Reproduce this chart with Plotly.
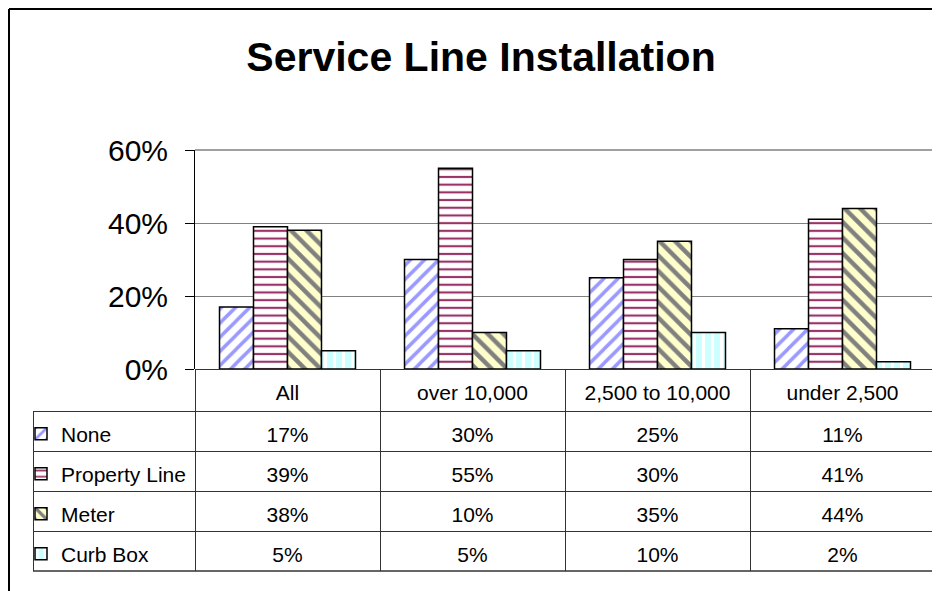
import plotly.graph_objects as go

# chart data
categories = ["All", "over 10,000", "2,500 to 10,000", "under 2,500"]
series_names = ["None", "Property Line", "Meter", "Curb Box"]
none_vals = [0.17, 0.30, 0.25, 0.11]
property_line_vals = [0.39, 0.55, 0.30, 0.41]
meter_vals = [0.38, 0.10, 0.35, 0.44]
curb_box_vals = [0.05, 0.05, 0.10, 0.02]

FONT = "Liberation Sans, Arial, sans-serif"

# fill patterns that mimic the Excel hatching
patterns = [
    dict(shape="/", fgcolor="#9999FF", bgcolor="white", size=10, solidity=0.35, fgopacity=1),
    dict(shape="-", fgcolor="#993366", bgcolor="white", size=7.7, solidity=0.28, fgopacity=1),
    dict(shape="\\", fgcolor="#808080", bgcolor="#FFFFCC", size=11, solidity=0.4, fgopacity=1),
    dict(shape="|", fgcolor="white", bgcolor="#CCFFFF", size=9, solidity=0.35, fgopacity=1),
]
all_vals = [none_vals, property_line_vals, meter_vals, curb_box_vals]

# figure geometry (px); page body adds an 8px offset
W, H = 932, 583
m_l, m_r, m_t, m_b = 25, 5, 142, 13
pw, ph = W - m_l - m_r, H - m_t - m_b
header_h, row_h = 42, 40
text_drop = 7                      # push table text down to centre it in rows
table_h = header_h + 4 * row_h
grid_bot = text_drop / ph
grid_top = (table_h + text_drop) / ph

fig = go.Figure()

legend_names = ["legend", "legend2", "legend3", "legend4"]
for i, (name, vals, pat) in enumerate(zip(series_names, all_vals, patterns)):
    fig.add_trace(go.Bar(
        name=name, x=categories, y=vals,
        marker=dict(color=pat["bgcolor"], pattern=pat,
                    line=dict(color="black", width=1.5)),
        legend=legend_names[i],
        hoverinfo="skip",
    ))

line_col = "#333333"
clear = "rgba(0,0,0,0)"
cell_text = [[""] * 4] + [[f"{round(v * 100)}%" for v in col] for col in zip(*all_vals)]

# data table grid (lines and fills only)
fig.add_trace(go.Table(
    domain=dict(x=[0, 1], y=[grid_bot, grid_top]),
    columnwidth=[162, 185, 185, 185, 185],
    header=dict(
        values=[""] * 5, height=header_h,
        fill_color=[clear] + ["white"] * 4,
        line=dict(color=[clear] + [line_col] * 4, width=1),
    ),
    cells=dict(
        values=[[""] * 4] * 5, height=row_h,
        fill_color="white",
        line=dict(color=line_col, width=1),
    ),
))

# data table text
fig.add_trace(go.Table(
    domain=dict(x=[0, 1], y=[0, table_h / ph]),
    columnwidth=[162, 185, 185, 185, 185],
    header=dict(
        values=[""] + categories, height=header_h,
        fill_color=clear, line=dict(color=clear, width=0),
        font=dict(family=FONT, size=21, color="black"),
        align="center",
    ),
    cells=dict(
        values=cell_text, height=row_h,
        fill_color=clear, line=dict(color=clear, width=0),
        font=dict(family=FONT, size=21, color="black"),
        align="center",
    ),
))

# one legend per table row so the keys sit in the first column
legend_cfg = {}
for i, lname in enumerate(legend_names):
    center_px = text_drop + (4 - i - 0.5) * row_h - 3
    legend_cfg[lname] = dict(
        x=(13 - m_l) / pw, xanchor="left",
        y=center_px / ph, yanchor="middle",
        font=dict(family=FONT, size=21, color="black"),
        bgcolor=clear, borderwidth=0,
        itemclick=False,
    )

x0 = (187 - m_l) / pw
fig.update_layout(
    width=W, height=H,
    margin=dict(l=m_l, r=m_r, t=m_t, b=m_b, autoexpand=False),
    paper_bgcolor="white", plot_bgcolor="white",
    font=dict(family=FONT, color="black"),
    title=dict(text="<b>Service Line Installation</b>",
               font=dict(family=FONT, size=41, color="black"),
               xref="container", x=473 / W, xanchor="center",
               yref="container", y=1 - 49 / H, yanchor="middle"),
    barmode="group", bargap=0.265, bargroupgap=0,
    xaxis=dict(domain=[x0, 1], showticklabels=False, ticks="",
               showgrid=False, zeroline=False, showline=False),
    yaxis=dict(domain=[grid_top, 1], range=[0, 0.6], dtick=0.2,
               tickformat=".0%", ticks="outside", ticklen=9,
               tickcolor="black", ticklabelstandoff=11,
               tickfont=dict(family=FONT, size=30, color="black"),
               showgrid=True, gridcolor="#808080", gridwidth=1,
               showline=True, linecolor="black", linewidth=1,
               zeroline=False),
    showlegend=True,
    **legend_cfg,
    shapes=[
        # gray plot-area frame (top and right)
        dict(type="line", xref="paper", yref="paper", x0=x0, x1=1, y0=1, y1=1,
             line=dict(color="#808080", width=1.5)),
        dict(type="line", xref="paper", yref="paper", x0=1, x1=1, y0=grid_top, y1=1,
             line=dict(color="#808080", width=1.5)),
        # table right and bottom edges
        dict(type="line", xref="paper", yref="paper", x0=1, x1=1, y0=grid_bot, y1=grid_top,
             line=dict(color=line_col, width=1.5)),
        dict(type="line", xref="paper", yref="paper", x0=0, x1=1, y0=grid_bot, y1=grid_bot,
             line=dict(color=line_col, width=1.5)),
        # outer chart border
        dict(type="line", xref="paper", yref="paper",
             x0=(1 - m_l) / pw, x1=(W + 5 - m_l) / pw,
             y0=(H - m_b - 1) / ph, y1=(H - m_b - 1) / ph,
             line=dict(color="black", width=2)),
        dict(type="line", xref="paper", yref="paper",
             x0=(1 - m_l) / pw, x1=(1 - m_l) / pw,
             y0=(H - m_b - 1) / ph, y1=-0.2,
             line=dict(color="black", width=2)),
    ],
)

fig.write_html("out.html")
